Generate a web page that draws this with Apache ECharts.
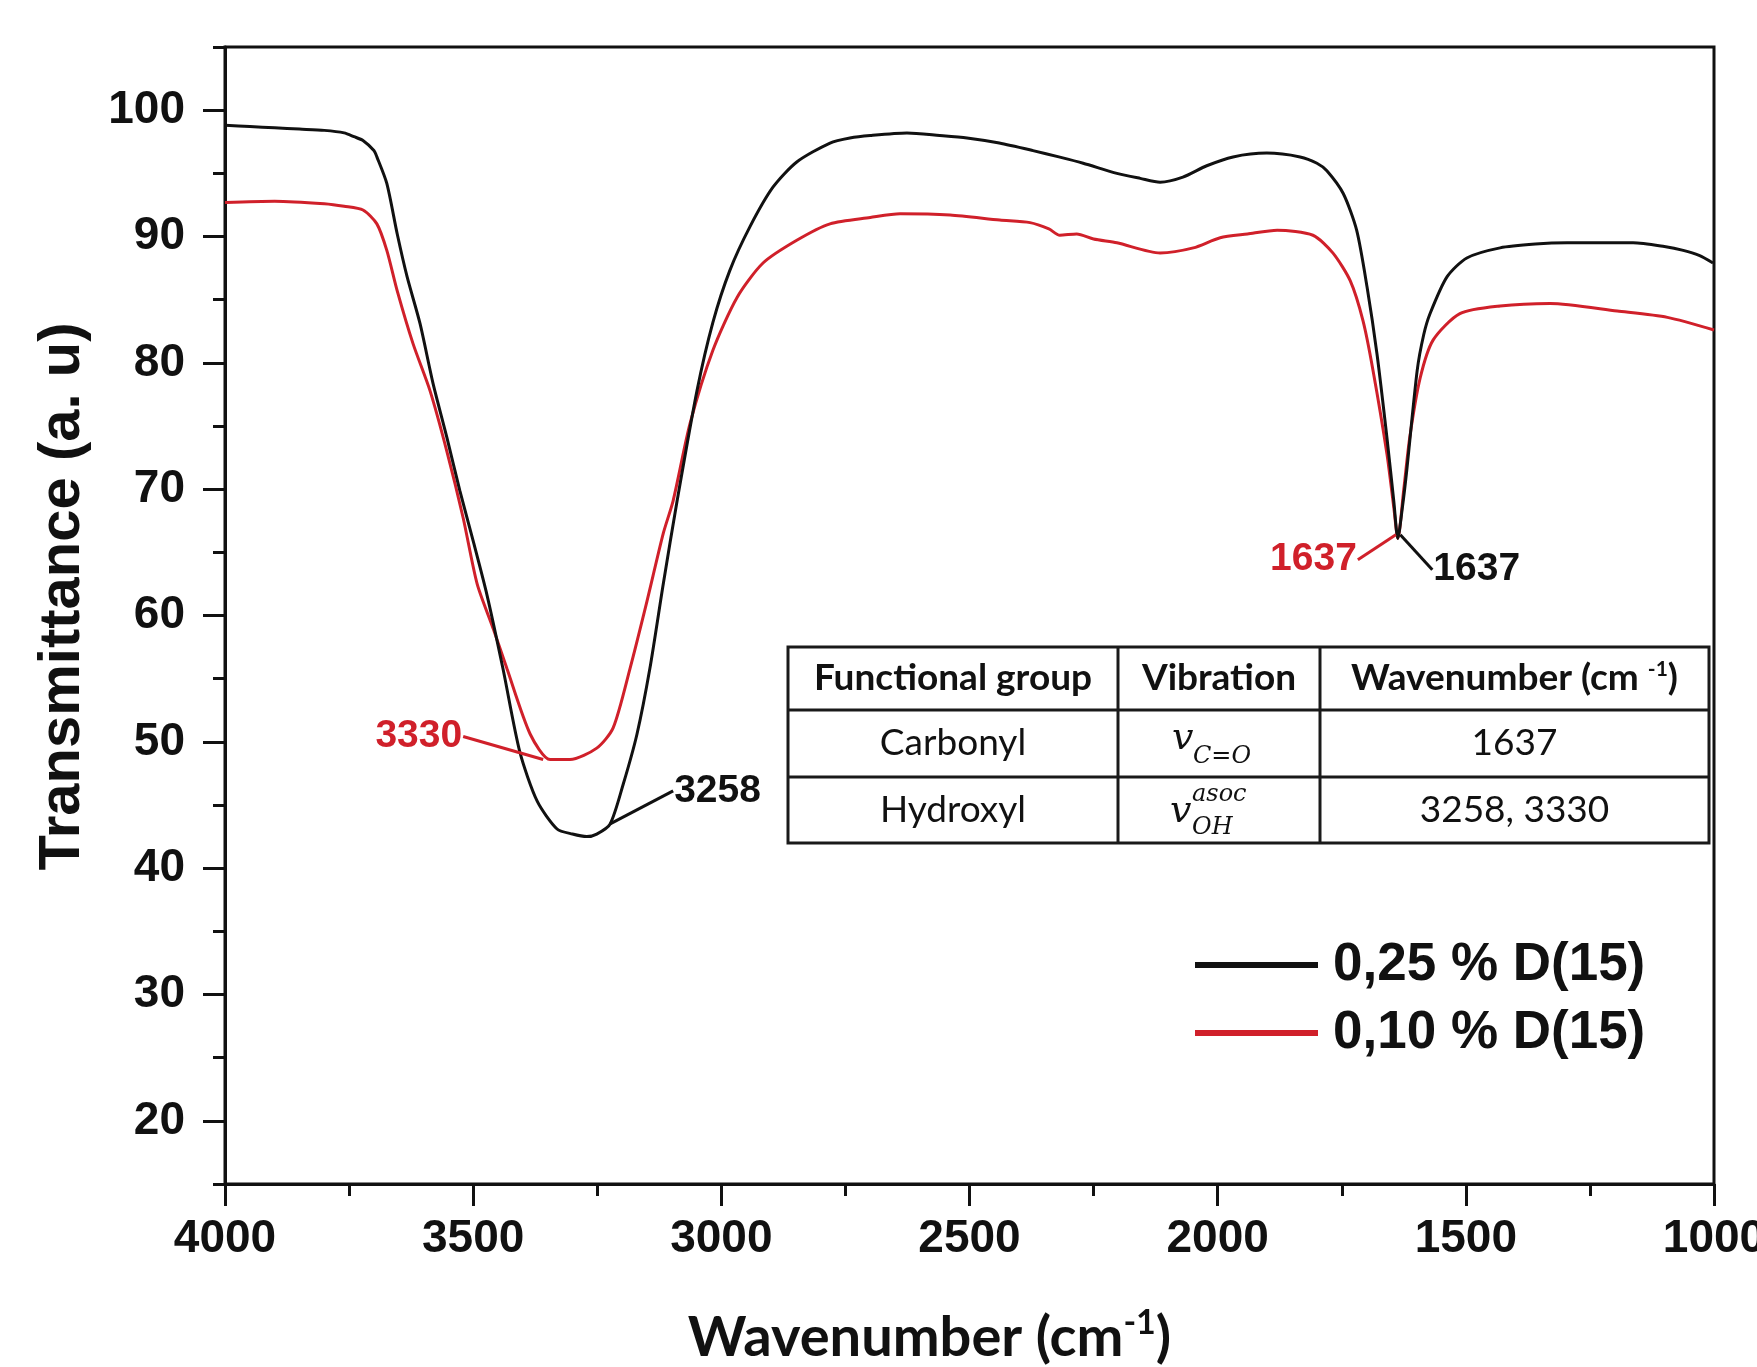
<!DOCTYPE html>
<html>
<head>
<meta charset="utf-8">
<script src="https://cdn.jsdelivr.net/npm/echarts@6/dist/echarts.min.js"></script>
<style>
  html, body { margin: 0; padding: 0; background: #fff; }
  #chart { width: 1757px; height: 1367px; }
</style>
</head>
<body>
<div id="chart"></div>
<script>
// FTIR spectra, values (wavenumber cm-1 -> transmittance)
const wnBlack = [4000, 3950, 3900, 3850, 3800, 3760, 3740, 3722, 3700, 3694, 3674, 3653, 3633, 3607, 3581, 3553, 3527, 3500, 3472, 3440, 3406, 3371, 3331, 3300, 3271, 3251, 3224, 3198, 3170, 3144, 3117, 3089, 3049, 3017, 2983, 2942, 2896, 2848, 2781, 2741, 2700, 2626, 2560, 2505, 2440, 2372, 2320, 2271, 2203, 2156, 2116, 2070, 2022, 1969, 1901, 1834, 1800, 1780, 1747, 1720, 1699, 1679, 1659, 1645, 1637, 1628, 1619, 1598, 1585, 1572, 1538, 1498, 1431, 1360, 1296, 1230, 1163, 1100, 1062, 1030, 1002];
const tBlack = [98.8, 98.7, 98.6, 98.5, 98.4, 98.2, 97.9, 97.6, 96.8, 96.3, 94.2, 90.2, 86.8, 83.1, 78.4, 74.1, 69.9, 65.9, 61.6, 55.8, 49.2, 45.3, 43.1, 42.7, 42.5, 42.7, 43.5, 46.6, 50.6, 55.8, 62.5, 69.1, 77.8, 83.2, 87.3, 90.8, 93.9, 95.9, 97.4, 97.8, 98.0, 98.2, 98.0, 97.8, 97.4, 96.8, 96.3, 95.8, 95.0, 94.6, 94.3, 94.7, 95.6, 96.3, 96.6, 96.3, 95.8, 95.2, 93.4, 90.5, 86.0, 80.7, 74.1, 69.0, 66.1, 68.5, 71.5, 79.4, 82.2, 83.9, 86.8, 88.3, 89.1, 89.4, 89.5, 89.5, 89.5, 89.2, 88.9, 88.5, 87.9];

const wnRed = [4000, 3900, 3800, 3760, 3722, 3694, 3674, 3653, 3621, 3587, 3553, 3520, 3492, 3460, 3432, 3385, 3345, 3305, 3251, 3218, 3184, 3150, 3117, 3097, 3063, 3017, 2968, 2916, 2848, 2781, 2700, 2640, 2539, 2439, 2378, 2340, 2318, 2284, 2250, 2203, 2116, 2049, 1995, 1940, 1880, 1808, 1768, 1733, 1707, 1687, 1659, 1645, 1637, 1625, 1613, 1592, 1566, 1512, 1431, 1330, 1195, 1094, 1000];
const tRed = [92.7, 92.8, 92.6, 92.4, 92.1, 91.0, 88.9, 85.7, 81.5, 77.8, 73.0, 67.7, 62.5, 59.0, 55.8, 50.6, 48.6, 48.6, 49.5, 51.1, 55.8, 61.1, 66.5, 69.1, 75.2, 81.0, 85.2, 87.9, 89.7, 91.0, 91.5, 91.8, 91.7, 91.3, 91.1, 90.6, 90.1, 90.2, 89.8, 89.5, 88.7, 89.1, 89.9, 90.2, 90.5, 90.1, 88.7, 86.5, 83.3, 79.4, 72.8, 68.5, 66.1, 70.0, 74.1, 78.8, 81.8, 83.9, 84.5, 84.7, 84.1, 83.6, 82.6];

const seriesNames = ['0,25 % D(15)', '0,10 % D(15)'];
const yMajorTicks = [20, 30, 40, 50, 60, 70, 80, 90, 100];
const yMinorTicks = [15, 25, 35, 45, 55, 65, 75, 85, 95, 105];

const tableHead = ['Functional group', 'Vibration', 'Wavenumber (cm {sup|-1})'];
const tableGroups = ['Carbonyl', 'Hydroxyl'];
const tableWaves = ['1637', '3258, 3330'];

const BLACK = '#111';
const RED = '#d0202a';

// peak labels: point on the curve + leader offset in px
const peakMarks = [
  {text: '3330', color: RED, at: [3359, 48.6], dx: -80, dy: -23},
  {text: '3258', color: BLACK, at: [3224, 43.5], dx: 63, dy: -33},
  {text: '1637', color: RED, at: [1641, 66.4], dx: -38, dy: 25},
  {text: '1637', color: BLACK, at: [1632, 66.4], dx: 32, dy: 35}
];

const zip = (xs, ys) => xs.map((x, i) => [x, ys[i]]);

const chart = echarts.init(document.getElementById('chart'));

const labelFont = {fontFamily: 'Liberation Sans', fontWeight: 'bold', color: BLACK};

chart.setOption({
  animation: false,
  backgroundColor: '#fff',
  grid: {
    left: 225, right: 43, top: 47, bottom: 183,
    outerBoundsMode: 'none', containLabel: false,
    show: true, borderColor: BLACK, borderWidth: 3
  },
  legend: {
    orient: 'vertical',
    left: 1190,
    top: 929,
    icon: 'rect',
    itemWidth: 123,
    itemHeight: 6,
    itemGap: 6,
    data: seriesNames,
    textStyle: {fontFamily: 'Liberation Sans', fontWeight: 'bold', fontSize: 53, lineHeight: 62, color: BLACK, padding: [0, 0, 0, 10]}
  },
  xAxis: {
    type: 'value',
    min: 1000,
    max: 4000,
    interval: 500,
    inverse: true,
    name: 'Wavenumber (cm{sup|-1})',
    nameLocation: 'middle',
    nameGap: 122,
    nameTextStyle: {
      fontFamily: 'Lato', fontWeight: 'bold', fontSize: 56, color: BLACK, padding: [0, 80, 0, 0],
      rich: {sup: {fontFamily: 'Lato', fontWeight: 'bold', fontSize: 34, color: BLACK, padding: [0, 0, 30, 0]}}
    },
    axisLine: {lineStyle: {color: BLACK, width: 3}},
    axisTick: {length: 22, lineStyle: {color: BLACK, width: 3}},
    minorTick: {show: true, splitNumber: 2, length: 12, lineStyle: {color: BLACK, width: 3}},
    splitLine: {show: false},
    axisLabel: Object.assign({
      fontSize: 46, margin: 32, showMinLabel: true, showMaxLabel: true, hideOverlap: false,
      formatter: v => String(v)
    }, labelFont)
  },
  yAxis: [{
    type: 'value',
    min: 15,
    max: 105,
    name: 'Transmittance (a. u)',
    nameLocation: 'middle',
    nameGap: 133,
    nameTextStyle: {fontFamily: 'Liberation Sans', fontWeight: 'bold', fontSize: 58, color: BLACK, padding: [0, 0, 0, 38]},
    axisLine: {show: true, lineStyle: {color: BLACK, width: 3}},
    axisTick: {show: true, length: 22, customValues: yMajorTicks, lineStyle: {color: BLACK, width: 3}},
    axisLabel: Object.assign({fontSize: 46, margin: 40, customValues: yMajorTicks, formatter: v => String(v)}, labelFont),
    splitLine: {show: false}
  }, {
    // short ticks between the labelled ones
    type: 'value',
    min: 15,
    max: 105,
    position: 'left',
    axisLine: {show: false},
    axisTick: {show: true, length: 12, customValues: yMinorTicks, lineStyle: {color: BLACK, width: 3}},
    axisLabel: {show: false},
    splitLine: {show: false}
  }],
  series: [{
    name: seriesNames[0],
    type: 'line',
    data: zip(wnBlack, tBlack),
    showSymbol: false,
    smooth: 0.25,
    color: BLACK,
    lineStyle: {width: 3, color: BLACK},
    z: 3
  }, {
    name: seriesNames[1],
    type: 'line',
    data: zip(wnRed, tRed),
    showSymbol: false,
    smooth: 0.25,
    color: RED,
    lineStyle: {width: 3, color: RED},
    z: 2
  }]
});

// ---- overlay: peak labels and the inset table ----
const graphics = [];

peakMarks.forEach(m => {
  const p = chart.convertToPixel({seriesIndex: 0}, m.at);
  const end = [p[0] + m.dx, p[1] + m.dy];
  graphics.push({
    type: 'line', z: 10,
    shape: {x1: p[0], y1: p[1], x2: end[0], y2: end[1]},
    style: {stroke: m.color, lineWidth: 3}
  });
  const left = m.dx < 0;
  graphics.push({
    type: 'text', z: 10,
    x: left ? end[0] - 1 : end[0] + 1, y: end[1],
    style: {
      text: m.text, fill: m.color, font: 'bold 39px "Liberation Sans"',
      align: left ? 'right' : 'left', verticalAlign: 'middle'
    }
  });
});

const tb = {left: 788, right: 1709, rows: [647, 710, 777, 843], cols: [788, 1118, 1320, 1709]};
const lineStyle = {stroke: '#1a1a1a', lineWidth: 3};
graphics.push({
  type: 'rect', z: 9,
  shape: {x: tb.left, y: tb.rows[0], width: tb.right - tb.left, height: tb.rows[3] - tb.rows[0]},
  style: Object.assign({fill: '#fff'}, lineStyle)
});
[1, 2].forEach(i => graphics.push({
  type: 'line', z: 10, shape: {x1: tb.left, y1: tb.rows[i], x2: tb.right, y2: tb.rows[i]}, style: lineStyle
}));
[1, 2].forEach(i => graphics.push({
  type: 'line', z: 10, shape: {x1: tb.cols[i], y1: tb.rows[0], x2: tb.cols[i], y2: tb.rows[3]}, style: lineStyle
}));

const cellCenter = (r, c) => [(tb.cols[c] + tb.cols[c + 1]) / 2, (tb.rows[r] + tb.rows[r + 1]) / 2];
const cellText = (r, c, text, bold) => {
  const [cx, cy] = cellCenter(r, c);
  graphics.push({
    type: 'text', z: 11, x: cx, y: cy,
    style: {
      text: text, fill: '#111', font: (bold ? 'bold ' : '') + '37px Lato',
      align: 'center', verticalAlign: 'middle',
      rich: {sup: {font: 'bold 21px Lato', fill: '#111', padding: [0, 0, 18, 0]}}
    }
  });
};
tableHead.forEach((t, c) => cellText(0, c, t, true));
tableGroups.forEach((t, r) => cellText(r + 1, 0, t, false));
tableWaves.forEach((t, r) => cellText(r + 1, 2, t, false));

// italic symbols in the vibration column
const mathText = (x, y, text, size) => graphics.push({
  type: 'text', z: 11, x: x, y: y,
  style: {text: text, fill: '#111', font: 'italic ' + size + 'px "DejaVu Serif"', align: 'left', verticalAlign: 'middle'}
});
mathText(1172, 739, 'v', 38);
mathText(1193, 757, 'C=O', 24);
mathText(1170, 812, 'v', 38);
mathText(1192, 795, 'asoc', 24);
mathText(1192, 828, 'OH', 24);

chart.setOption({graphic: graphics});
</script>
</body>
</html>
